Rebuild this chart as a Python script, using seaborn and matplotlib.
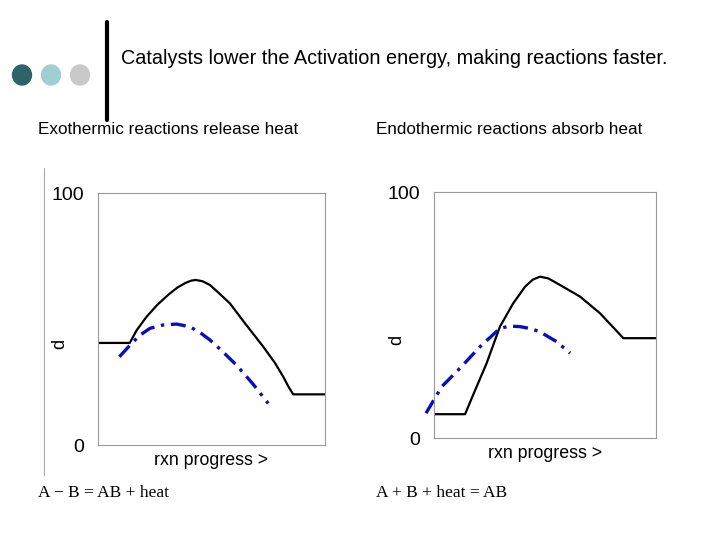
import matplotlib
matplotlib.use("Agg")
import matplotlib.pyplot as plt
from matplotlib.patches import Ellipse
import pandas as pd
import seaborn as sns

# Exothermic panel (x = reaction progress 0-100, y = energy 0-100)
exo_x = [0, 14, 17, 21.4, 26, 30.8, 35, 38.5, 41, 43, 46, 49.3, 53, 58.1, 65, 72.8, 78, 81.6, 84, 86, 100]
exo_y = [40.5, 40.5, 45.5, 50.9, 55.5, 59.5, 62.5, 64.3, 65.2, 65.5, 65, 63.5, 60.5, 56.2, 48, 39, 32.5, 27.1, 23, 20.1, 20.1]
exo_cat_x = [9.4, 14.8, 18.5, 22.9, 28.5, 34.6, 40.5, 45, 49.3, 55, 61, 68, 75]
exo_cat_y = [35, 40.3, 43.6, 46.3, 47.6, 48, 46.9, 44.6, 41.7, 37, 31.7, 24.5, 16.5]

# Endothermic panel
endo_x = [0, 14, 18.5, 23.7, 29.7, 35.7, 41, 44.5, 47.7, 51.5, 56.8, 65.8, 74.8, 85.3, 100]
endo_y = [9.8, 9.8, 19.5, 30.5, 45.4, 54.9, 61.6, 64.5, 65.7, 65, 62.3, 57.6, 50.8, 40.7, 40.7]
endo_cat_x = [-3.6, 3.5, 11.7, 20.7, 29.7, 34, 38.7, 43.5, 47.7, 55.2, 61.3]
endo_cat_y = [10.2, 21, 28.5, 37.2, 44.7, 45.6, 45.4, 44.6, 43.3, 39.3, 34.6]

panel_titles = ["Exothermic reactions release heat", "Endothermic reactions absorb heat"]
equations = ["A \u2212 B = AB + heat", "A + B + heat = AB"]
y_ticks = [0, 100]
headline = "Catalysts lower the Activation energy, making reactions faster."
dot_colors = ["#2e6466", "#9fcfd3", "#c9c9c9"]

sns.set_style("white")
plt.rcParams["font.family"] = ["Liberation Sans", "DejaVu Sans"]
plt.rcParams["text.color"] = "black"
plt.rcParams["axes.labelcolor"] = "black"
plt.rcParams["ytick.color"] = "black"

fig = plt.figure(figsize=(7.2, 5.4), dpi=100)

# slide decoration: three dots and a vertical bar
for i, c in enumerate(dot_colors):
    fig.patches.append(Ellipse(((22 + 29 * i) / 720, 1 - 75 / 540), 19 / 720, 20 / 540,
                               transform=fig.transFigure, color=c))
fig.add_artist(plt.Line2D([107 / 720, 107 / 720], [1 - 22 / 540, 1 - 120 / 540],
                          color="black", lw=3, transform=fig.transFigure))
fig.text(121 / 720, 1 - 59 / 540, headline, fontsize=14.3, va="center", ha="left")

panels = [
    (exo_x, exo_y, exo_cat_x, exo_cat_y, [98 / 720, 95 / 540, 227 / 720, 252 / 540]),
    (endo_x, endo_y, endo_cat_x, endo_cat_y, [434 / 720, 101.7 / 540, 222 / 720, 246 / 540]),
]
title_x = [38, 376]
eq_x = [38, 376]

for k, (bx, by, cx, cy, rect) in enumerate(panels):
    ax = fig.add_axes(rect)
    main = pd.DataFrame({"progress": bx, "energy": by})
    cat = pd.DataFrame({"progress": cx, "energy": cy})
    sns.lineplot(data=main, x="progress", y="energy", ax=ax, color="black", lw=1.6)
    sns.lineplot(data=cat, x="progress", y="energy", ax=ax, color="#0a0fbe", lw=2.4,
                 dashes=False, linestyle=(0, (4.5, 2, 1, 2)), clip_on=False)
    ax.set_xlim(0, 100)
    ax.set_ylim(0, 100)
    ax.set_xticks([])
    ax.set_yticks(y_ticks)
    ax.set_yticklabels([str(t) for t in y_ticks], fontsize=14)
    ax.tick_params(axis="y", length=0, pad=10)
    for s in ax.spines.values():
        s.set_color("#999999")
        s.set_linewidth(0.8)
    ax.set_xlabel("rxn progress >", fontsize=12.8, labelpad=5)
    ax.set_ylabel("")
    ax.text(-0.17, 0.4, "d", rotation=90, fontsize=13, transform=ax.transAxes,
            ha="center", va="center")
    fig.text(title_x[k] / 720, 1 - 130 / 540, panel_titles[k], fontsize=12.3, va="center")
    fig.text(eq_x[k] / 720, 1 - 493 / 540, equations[k], fontsize=12.5, va="center",
             family="Liberation Serif")

fig.add_artist(plt.Line2D([44 / 720, 44 / 720], [1 - 168 / 540, 1 - 475 / 540],
                          color="#aaaaaa", lw=0.8, transform=fig.transFigure))

fig.savefig("out.png", dpi=100)
